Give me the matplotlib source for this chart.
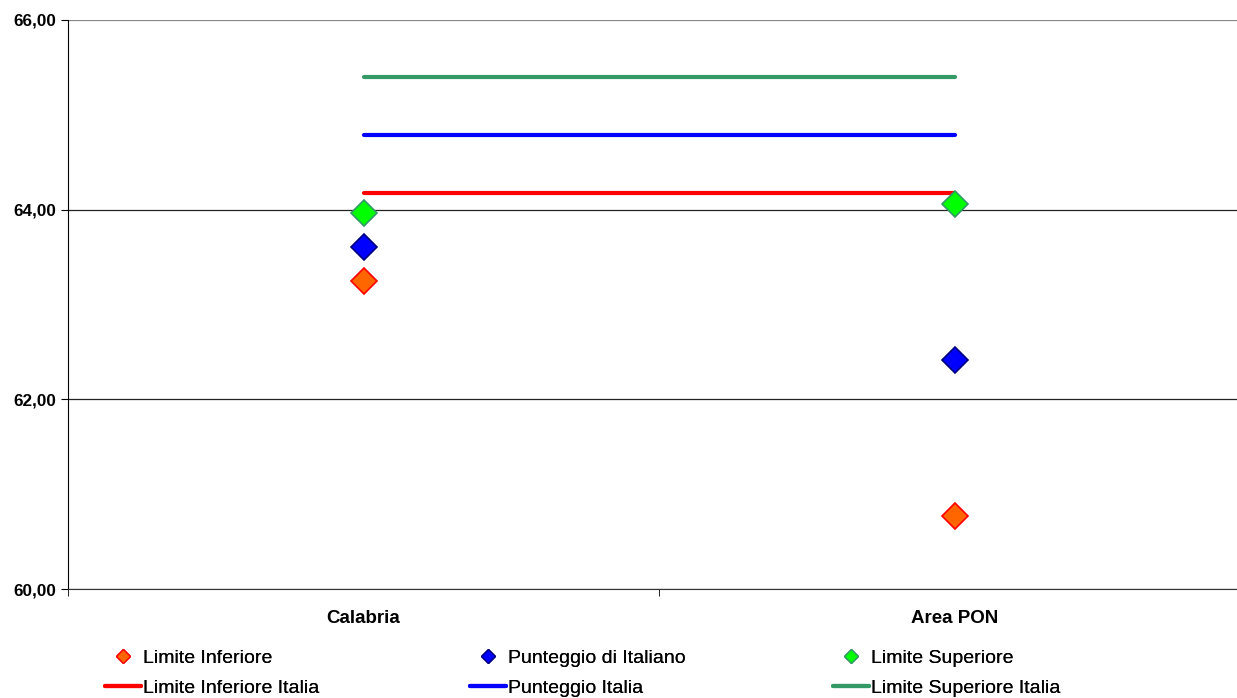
import matplotlib
matplotlib.use("Agg")
import matplotlib.pyplot as plt
from matplotlib.lines import Line2D
import numpy as np

categories = ["Calabria", "Area PON"]
limite_inferiore = [63.25, 60.77]
punteggio = [63.61, 62.41]
limite_superiore = [63.96, 64.06]
limite_inferiore_italia = [64.18, 64.18]
punteggio_italia = [64.79, 64.79]
limite_superiore_italia = [65.40, 65.40]
yticks = [60, 62, 64, 66]
ytick_labels = ["60,00", "62,00", "64,00", "66,00"]

plt.rcParams['font.family'] = ['Liberation Sans', 'DejaVu Sans']

fig = plt.figure(figsize=(12.37, 6.98), dpi=100)
ax = fig.add_axes([68/1237, 1-589/698, (1250-68)/1237, (589-20)/698])

x = np.arange(len(categories))

ax.plot(x, limite_inferiore_italia, color='#FF0000', lw=3, solid_capstyle='round', zorder=2)
ax.plot(x, punteggio_italia, color='#0000FF', lw=3, solid_capstyle='round', zorder=2)
ax.plot(x, limite_superiore_italia, color='#339966', lw=3, solid_capstyle='round', zorder=2)

ax.plot(x, limite_inferiore, ls='none', marker='D', ms=13, mfc='#FF6600', mec='#FF0000', mew=1.2, zorder=3)
ax.plot(x, punteggio, ls='none', marker='D', ms=13, mfc='#0000FF', mec='#000080', mew=1.2, zorder=3)
ax.plot(x, limite_superiore, ls='none', marker='D', ms=13, mfc='#00FF00', mec='#339966', mew=1.2, zorder=3)

ax.set_xlim(-0.5, len(categories) - 0.5)
ax.set_ylim(60, 66)
ax.set_yticks(yticks)
ax.set_yticklabels(ytick_labels, fontsize=12.3, fontweight='bold')
ax.set_xticks(x)
ax.set_xticklabels(categories, fontsize=13.5, fontweight='bold')
ax.tick_params(axis='x', length=0, pad=15)
ax.set_xticks([-0.5, 0.5, 1.5], minor=True)
ax.tick_params(axis='x', which='minor', direction='out', length=5, color='black')
ax.tick_params(axis='y', direction='out', length=5, color='black', pad=3.5)
ax.yaxis.grid(True, color='#222222', lw=0.9)
ax.set_axisbelow(True)
# top gridline appears grey in the reference
gl = ax.get_ygridlines()
gl[-1].set_color('#888888')
gl[-1].set_linewidth(1.6)
for s in ['top', 'right']:
    ax.spines[s].set_visible(False)
ax.spines['left'].set_color('black')
ax.spines['bottom'].set_color('#333333')

def mk(fc, ec):
    return Line2D([], [], ls='none', marker='D', ms=7, mfc=fc, mec=ec, mew=1)

def ln(c):
    return Line2D([], [], color=c, lw=3, solid_capstyle='round')

groups = [
    (mk('#FF6600', '#FF0000'), ln('#FF0000'), "Limite Inferiore", "Limite Inferiore Italia", 105),
    (mk('#0000FF', '#000080'), ln('#0000FF'), "Punteggio di Italiano", "Punteggio Italia", 470),
    (mk('#00FF00', '#339966'), ln('#339966'), "Limite Superiore", "Limite Superiore Italia", 833),
]
for h1, h2, l1, l2, xpx in groups:
    leg = fig.legend([h1, h2], [l1, l2], loc='upper left',
                     bbox_to_anchor=(xpx/1237, 1-649/698), frameon=False,
                     fontsize=14, handlelength=1.85, handletextpad=0.1,
                     labelspacing=0.66, borderpad=0, borderaxespad=0)
    fig.add_artist(leg)

fig.savefig("out.png", dpi=100)
